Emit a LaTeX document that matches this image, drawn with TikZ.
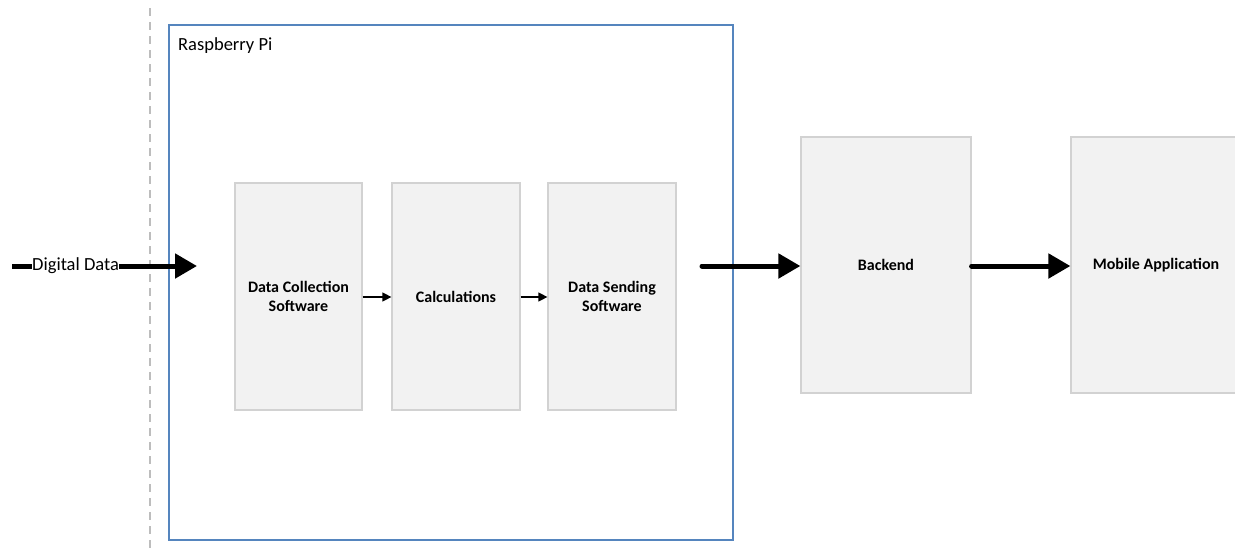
\documentclass[tikz,border=0pt]{standalone}
\usepackage{fontspec}
\setmainfont{Carlito}
\usetikzlibrary{arrows.meta}
\definecolor{piblue}{HTML}{5585BE}
\definecolor{boxfill}{HTML}{F2F2F2}
\definecolor{boxline}{HTML}{D2D2D2}
\definecolor{dashgray}{HTML}{BDBDBD}
\tikzset{
  blk/.style={draw=boxline, line width=1.2pt, fill=boxfill, inner sep=0pt, align=center,
    font=\fontsize{16}{19}\selectfont\bfseries},
  thinarr/.style={line width=1.2pt, -{Triangle[length=9pt,width=9pt]}},
  thickarr/.style={line width=5pt, line cap=round, -{Triangle[length=22pt,width=24pt]}},
  regtext/.style={inner sep=0pt, font=\fontsize{18.5}{22}\selectfont},
}
\begin{document}
\begin{tikzpicture}[x=1pt,y=-1pt]
\useasboundingbox[fill=white] (0,0) rectangle (1235,550);
% dashed separator
\draw[dashgray, line width=1.2pt, dash pattern=on 8pt off 6pt] (150,8) -- (150,550);
% Raspberry Pi container
\node[draw=piblue, line width=1.3pt, minimum width=564pt, minimum height=515pt, inner sep=0pt] (pi) at (451,282.5) {};
\node[regtext, anchor=base west] (pilabel) at (178,50) {Raspberry Pi};
% blocks
\node[blk, minimum width=127pt, minimum height=227pt] (dcs) at (298.5,296.5) {Data Collection\\Software};
\node[blk, minimum width=128pt, minimum height=227pt] (calc) at (456,296.5) {Calculations};
\node[blk, minimum width=128pt, minimum height=227pt] (dss) at (612,296.5) {Data Sending\\Software};
\node[blk, minimum width=170pt, minimum height=256pt] (be) at (886,265) {Backend};
\node[blk, minimum width=170pt, minimum height=256pt] (mob) at (1156,265) {Mobile Application};
% input arrow
\coordinate (in0) at (12,266);
\node[regtext, anchor=west] (dd) at (32,266) {Digital Data};
\coordinate (in1) at (197,266);
\draw[line width=5pt] (in0) -- (dd.west);
\draw[line width=5pt, -{Triangle[length=22pt,width=24pt]}] (dd.east) -- (in1);
% inner arrows
\draw[thinarr] (dcs.east |- 0,297) -- (calc.west |- 0,297);
\draw[thinarr] (calc.east |- 0,297) -- (dss.west |- 0,297);
% output arrows
\coordinate (out0) at (702,266);
\draw[thickarr] (out0) -- (be.west |- 0,266);
\draw[thickarr] (be.east |- 0,266) -- (mob.west |- 0,266);
\end{tikzpicture}
\end{document}
